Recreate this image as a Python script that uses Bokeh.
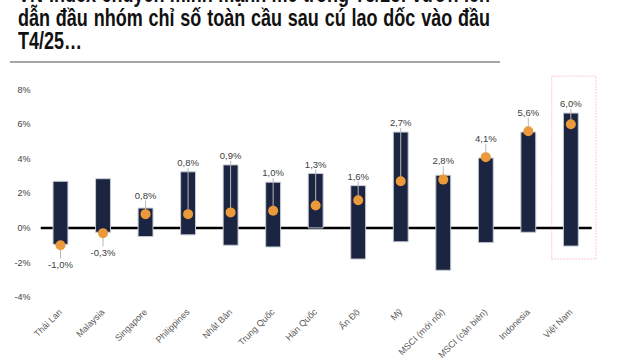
from bokeh.plotting import figure
from bokeh.models import Range1d, FixedTicker, BoxAnnotation, Div, ColumnDataSource
from bokeh.layouts import column
from bokeh.core.properties import value
from bokeh.embed import file_html
from bokeh.resources import INLINE
from math import pi

# ---- data ----
categories = ["Thái Lan", "Malaysia", "Singapore", "Philippines", "Nhật Bản", "Trung Quốc",
              "Hàn Quốc", "Ấn Độ", "Mỹ", "MSCI (mới nổi)", "MSCI (cận biên)", "Indonesia", "Việt Nam"]
range_high = [2.7, 2.85, 1.15, 3.25, 3.65, 2.65, 3.15, 2.45, 5.55, 3.05, 4.05, 5.55, 6.65]
range_low = [-0.95, -0.25, -0.5, -0.4, -1.0, -1.1, 0.0, -1.8, -0.8, -2.45, -0.85, -0.25, -1.05]
change = [-1.0, -0.3, 0.8, 0.8, 0.9, 1.0, 1.3, 1.6, 2.7, 2.8, 4.1, 5.6, 6.0]
y_ticks = [-4, -2, 0, 2, 4, 6, 8]

title_line1 = "VN-Index chuyển mình mạnh mẽ trong T5/25: vươn lên"
title_line2 = "dẫn đầu nhóm chỉ số toàn cầu sau cú lao dốc vào đầu"
title_line3 = "T4/25…"

FONT = "Liberation Sans"

# ---- derived ----
xs = list(range(len(categories)))
labels = [(f"{v:.1f}".replace(".", ",") + "%") for v in change]
label_y = []
lead_end = []
for h, c in zip(range_high, change):
    if c >= 0:
        ly = max(h + 0.55, c + 1.1)
        label_y.append(ly)
        lead_end.append(ly - 0.32)
    else:
        ly = c - 1.1
        label_y.append(ly)
        lead_end.append(ly + 0.32)

src = ColumnDataSource(dict(x=xs, high=range_high, low=range_low, chg=change,
                            lab=labels, ly=label_y, le=lead_end))

# ---- header ----
common = "position:absolute;left:18px;font-size:18px;line-height:0.95;transform:scaleY(1.3);transform-origin:0 0;"
html = f"""
<div style="position:relative;width:640px;height:64px;font-family:'Liberation Sans',Arial,sans-serif;font-weight:bold;color:#111;">
  <div style="{common}top:-16.5px;width:472px;text-align:justify;text-align-last:justify;">{title_line1}</div>
  <div style="{common}top:7.8px;width:472px;text-align:justify;text-align-last:justify;">{title_line2}</div>
  <div style="{common}top:30.8px;">{title_line3}</div>
  <div style="position:absolute;left:10px;top:60.5px;width:490px;height:2px;background:#a6a6a6;"></div>
</div>
"""
header = Div(text=html, width=640, height=64, margin=(0, 0, 0, 0))

# ---- figure ----
p = figure(frame_width=558, frame_height=228, output_backend="svg", toolbar_location=None,
           x_range=Range1d(-0.47, 12.65), y_range=Range1d(-4.2, 9.0),
           min_border_top=8, min_border_bottom=60, min_border_left=40, min_border_right=42,
           margin=(0, 0, 0, 0))
p.outline_line_color = None
p.background_fill_color = "white"
p.border_fill_color = "white"
p.xgrid.visible = False
p.ygrid.visible = False

vn = len(categories) - 1
box = BoxAnnotation(left=vn - 0.45, right=vn + 0.59, bottom=-1.8, top=8.79,
                    fill_alpha=0, line_color="#ee5050", line_dash="2 1", line_width=1)
p.add_layout(box)

# zero line
p.segment(x0=[-0.47], y0=[0], x1=[vn + 0.49], y1=[0], line_color="black", line_width=2.5)

p.vbar(x="x", width=0.35, top="high", bottom="low", source=src,
       fill_color="#1b2440", line_color="#c5cad4", line_width=1)

p.segment(x0="x", y0="chg", x1="x", y1="le", source=src, line_color="#b8b8b8", line_width=1)
p.scatter(x="x", y="chg", source=src, size=10, fill_color="#ea9a3a", line_color=None)

p.text(x="x", y="ly", text="lab", source=src, text_align="center", text_baseline="middle",
       text_font=value(FONT), text_font_size="9.5px", text_color="#404040")

# axes
p.yaxis.ticker = FixedTicker(ticks=y_ticks)
p.yaxis.major_label_overrides = {t: f"{t}%" for t in y_ticks}
p.yaxis.axis_line_color = None
p.yaxis.major_tick_line_color = None
p.yaxis.minor_tick_line_color = None
p.yaxis.major_label_standoff = 4
p.yaxis.major_label_text_font = FONT
p.yaxis.major_label_text_font_size = "9px"
p.yaxis.major_label_text_color = "#404040"

p.xaxis.ticker = FixedTicker(ticks=xs)
p.xaxis.major_label_overrides = {i: c for i, c in zip(xs, categories)}
p.xaxis.major_label_orientation = pi / 4
p.xaxis.axis_line_color = None
p.xaxis.major_tick_line_color = None
p.xaxis.minor_tick_line_color = None
p.xaxis.major_label_standoff = 4
p.xaxis.major_label_text_font = FONT
p.xaxis.major_label_text_font_size = "9px"
p.xaxis.major_label_text_color = "#595959"

layout = column(header, p, spacing=0, margin=(0, 0, 0, 0))
open("out.html", "w").write(file_html(layout, INLINE))
